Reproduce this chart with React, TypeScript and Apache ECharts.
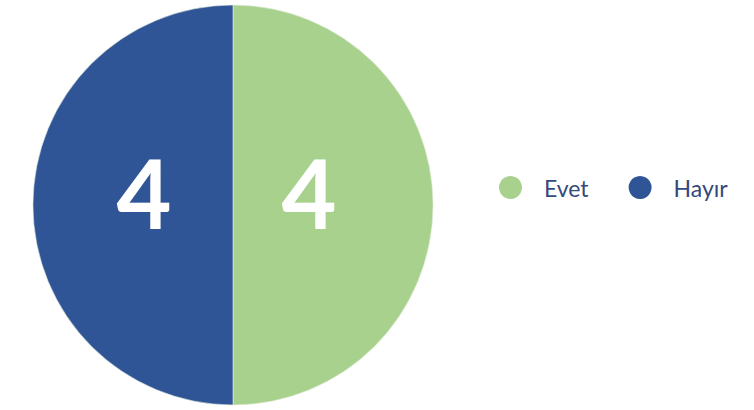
import React, { useEffect, useRef } from "react";
import * as echarts from "echarts";

const categories = ["Evet", "Hayır"];
const values = [4, 4];
const colors = ["#A9D18E", "#2F5597"];
const labelOffsets = [[-27, -13], [14, -13]];

export default function App() {
  const ref = useRef<HTMLDivElement>(null);
  useEffect(() => {
    if (!ref.current) return;
    const chart = echarts.init(ref.current, null, { renderer: "svg" });
    chart.setOption({
      animation: false,
      legend: {
        orient: "horizontal",
        left: 499,
        top: 176,
        padding: 0,
        itemWidth: 23,
        itemHeight: 23,
        itemGap: 40,
        icon: "circle",
        data: categories,
        itemStyle: { borderWidth: 0 },
        textStyle: {
          fontFamily: "Lato",
          fontSize: 23,
          color: "#34497c",
          padding: [0, 0, 0, 17],
          lineHeight: 23,
        },
      },
      series: [
        {
          type: "pie",
          center: [233, 205],
          radius: 200,
          startAngle: 90,
          clockwise: true,
          itemStyle: { borderColor: "#e8f0e0", borderWidth: 0.6 },
          label: {
            show: true,
            position: "inside",
            formatter: "{c}",
            color: "#ffffff",
            fontFamily: "Lato",
            fontWeight: "bold",
            fontSize: 95,
          },
          labelLine: { show: false },
          emphasis: { disabled: true },
          data: categories.map((name, i) => ({
            name,
            value: values[i],
            itemStyle: { color: colors[i] },
            label: { offset: labelOffsets[i] },
          })),
        },
      ],
    });
    return () => chart.dispose();
  }, []);
  return (
    <div
      ref={ref}
      style={{ position: "absolute", left: 0, top: 0, width: 754, height: 410 }}
    />
  );
}
